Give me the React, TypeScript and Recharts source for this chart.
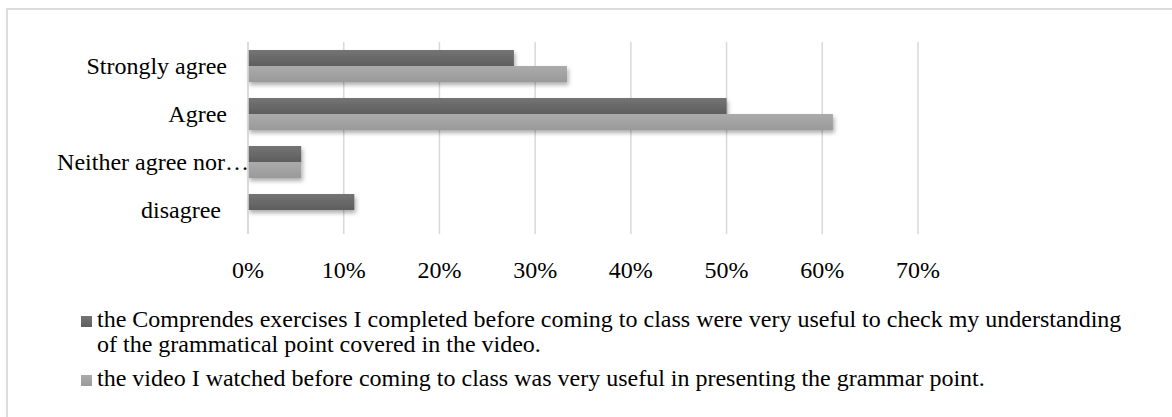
import React from 'react';
import { BarChart, Bar, XAxis, YAxis, CartesianGrid } from 'recharts';

const categories = ['Strongly agree', 'Agree', 'Neither agree nor…', 'disagree '];
const exercisesValues = [27.78, 50, 5.56, 11.11];
const videoValues = [33.33, 61.11, 5.56, 0];
const xTicks = [0, 10, 20, 30, 40, 50, 60, 70];
const seriesNames = [
  'the Comprendes exercises I completed before coming to class were very useful to check my understanding of the grammatical point covered in the video.',
  'the video I watched before coming to class was very useful in presenting the grammar point.',
];

const data = categories.map((c, i) => ({
  category: c,
  exercises: exercisesValues[i],
  video: videoValues[i],
}));

const FONT = '"Liberation Serif", "Times New Roman", serif';
const FS = 24;

const DARK = ['#747474', '#5e5e5e'];
const LIGHT = ['#ababab', '#9a9a9a'];

function YTick(props: any) {
  const { x, y, payload } = props;
  const label = String(payload.value);
  const overflow = label.endsWith('…');
  return (
    <text
      x={x}
      y={y}
      dx={overflow ? 22 : 0}
      dy="0.34em"
      textAnchor="end"
      style={{ whiteSpace: 'pre' }}
      fontFamily={FONT}
      fontSize={FS}
      fill="#000"
    >
      {label}
    </text>
  );
}

function XTick(props: any) {
  const { x, y, payload } = props;
  return (
    <text x={x} y={y} textAnchor="middle" fontFamily={FONT} fontSize={FS} fill="#000">
      {payload.value}%
    </text>
  );
}

function makeShape(gradId: string) {
  return (props: any) => {
    const { x, y, width, height } = props;
    if (!width || width <= 0) return <g />;
    return (
      <rect
        x={x}
        y={y}
        width={width}
        height={height}
        fill={`url(#${gradId})`}
        filter="url(#barShadow)"
      />
    );
  };
}

export default function App() {
  return (
    <div
      style={{
        position: 'absolute',
        left: 0,
        top: 0,
        width: 1172,
        height: 417,
        overflow: 'hidden',
        background: '#fff',
      }}
    >
      <div
        style={{
          position: 'absolute',
          left: 6,
          top: 8,
          width: 1300,
          height: 600,
          border: '2px solid #dcdcdc',
        }}
      />
      <div style={{ position: 'absolute', left: 0, top: 0 }}>
        <BarChart
          width={1172}
          height={300}
          data={data}
          layout="vertical"
          margin={{ top: 42, right: 254, left: 0, bottom: 16 }}
          barSize={16}
          barGap={0}
        >
          <defs>
            <linearGradient id="gradDark" x1="0" y1="0" x2="0" y2="1">
              <stop offset="0%" stopColor={DARK[0]} />
              <stop offset="100%" stopColor={DARK[1]} />
            </linearGradient>
            <linearGradient id="gradLight" x1="0" y1="0" x2="0" y2="1">
              <stop offset="0%" stopColor={LIGHT[0]} />
              <stop offset="100%" stopColor={LIGHT[1]} />
            </linearGradient>
            <filter id="barShadow" x="-10%" y="-50%" width="130%" height="250%">
              <feDropShadow dx="1.5" dy="3" stdDeviation="2" floodColor="#000" floodOpacity="0.32" />
            </filter>
          </defs>
          <CartesianGrid horizontal={false} stroke="#d9d9d9" strokeWidth={1.5} />
          <XAxis
            type="number"
            domain={[0, 70]}
            ticks={xTicks}
            axisLine={false}
            tickLine={false}
            tickSize={0}
            tickMargin={44}
            height={50}
            tick={<XTick />}
            interval={0}
          />
          <YAxis
            type="category"
            dataKey="category"
            width={248}
            axisLine={{ stroke: '#d9d9d9', strokeWidth: 1.5 }}
            tickLine={false}
            tickSize={0}
            tickMargin={21}
            tick={<YTick />}
            interval={0}
          />
          <Bar dataKey="exercises" isAnimationActive={false} shape={makeShape('gradDark')} />
          <Bar dataKey="video" isAnimationActive={false} shape={makeShape('gradLight')} />
        </BarChart>
      </div>
      <div
        style={{
          position: 'absolute',
          left: 81,
          top: 307,
          fontFamily: FONT,
          fontSize: FS,
          lineHeight: '25px',
          color: '#000',
        }}
      >
        {seriesNames.map((name, i) => (
          <div key={i} style={{ display: 'flex', alignItems: 'flex-start', marginBottom: 9 }}>
            <div
              style={{
                width: 11,
                height: 11,
                marginTop: 9,
                marginRight: 5,
                flex: '0 0 auto',
                background: `linear-gradient(${i === 0 ? DARK[0] : LIGHT[0]}, ${i === 0 ? DARK[1] : LIGHT[1]})`,
              }}
            />
            <div style={{ width: 1035 }}>{name}</div>
          </div>
        ))}
      </div>
    </div>
  );
}
